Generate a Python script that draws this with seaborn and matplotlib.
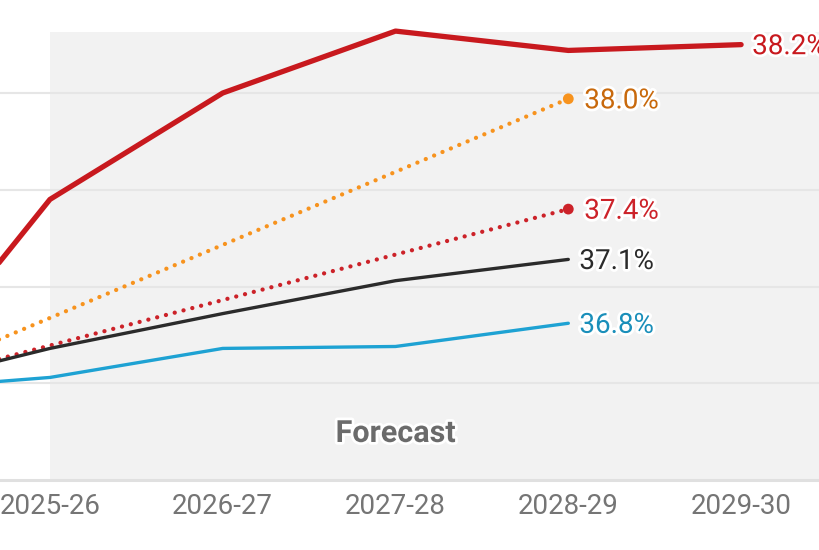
import matplotlib
matplotlib.use("Agg")
import matplotlib.pyplot as plt
import matplotlib.patheffects as pe
import pandas as pd
import seaborn as sns

# ── data ──────────────────────────────────────────────────────────
years = ["2024-25", "2025-26", "2026-27", "2027-28", "2028-29", "2029-30"]
shown_years = years[1:]

red_solid = [36.34, 37.45, 38.00, 38.32, 38.22, 38.25]
black_line = [36.46, 36.68, 36.86, 37.03, 37.14]
blue_line = [36.46, 36.53, 36.68, 36.69, 36.81]
orange_target_years = ["2024-25", "2028-29"]
orange_target = [36.46, 37.97]
red_target_years = ["2024-25", "2028-29"]
red_target = [36.46, 37.40]

end_labels = ["38.2%", "38.0%", "37.4%", "37.1%", "36.8%"]
grid_values = [36.0, 36.5, 37.0, 37.5, 38.0]

# ── style ─────────────────────────────────────────────────────────
sns.set_theme(style="white")
plt.rcParams["font.family"] = ["Roboto", "DejaVu Sans"]

RED = "#c8191e"
RED_DOT = "#cc2229"
ORANGE = "#f7931e"
ORANGE_TXT = "#c8690c"
BLACK = "#2b2b2b"
BLUE = "#1ea2d3"
BLUE_TXT = "#1a8fba"
SHADE = "#f2f2f2"
GRID = "#e6e6e6"

pos = {y: i for i, y in enumerate(years)}
outline = [pe.withStroke(linewidth=4, foreground="white")]

fig = plt.figure(figsize=(8.2, 5.5), dpi=100)
# axes box in pixels: x 0..820, y 32..480 (from top)
ax = fig.add_axes([0, 70 / 550, 1, 448 / 550])
ax.set_facecolor("white")

x_left = 1 - 50 / 173
x_right = 5 + 79 / 173
ax.set_xlim(x_left, x_right)
ax.set_ylim(36.0, 38.0 + 61 / 193.5)

# forecast shading
ax.axvspan(1, x_right, color=SHADE, zorder=0, lw=0)

# gridlines
for g in grid_values[1:]:
    ax.axhline(g, color=GRID, lw=1.5, zorder=1)
ax.axhline(grid_values[0], color="#e0e0e0", lw=2.2, zorder=1, clip_on=False)


def draw(xs, ys, color, lw, ls="-", end_marker=False):
    df = pd.DataFrame({"x": [pos[x] for x in xs], "y": ys})
    sns.lineplot(data=df, x="x", y="y", ax=ax, color=color, lw=lw,
                 linestyle=ls, dash_capstyle="round", solid_capstyle="round",
                 zorder=3, clip_on=False)
    if end_marker:
        sns.scatterplot(x=df["x"].iloc[-1:], y=df["y"].iloc[-1:], ax=ax,
                        color=color, s=60, edgecolor="none", zorder=4)
    return df["x"].iloc[-1], df["y"].iloc[-1]


dots = (0, (0.01, 2.1))
ends = [
    draw(years, red_solid, RED, 3.8),
    draw(orange_target_years, orange_target, ORANGE, 3.1, dots, True),
    draw(red_target_years, red_target, RED_DOT, 3.1, dots, True),
    draw(years[:5], black_line, BLACK, 2.4),
    draw(years[:5], blue_line, BLUE, 2.4),
]

label_colors = [RED, ORANGE_TXT, RED_DOT, BLACK, BLUE_TXT]
offsets = [8, 11.5, 11.5, 8, 8]
for (x, y), txt, c, off in zip(ends, end_labels, label_colors, offsets):
    ax.annotate(txt, (x, y), xytext=(off, -1.5), textcoords="offset points",
                ha="left", va="center", fontsize=20, color=c,
                path_effects=outline, zorder=5, annotation_clip=False)

ax.text(pos["2027-28"], 36.243, "Forecast", ha="center", va="center",
        fontsize=22, fontweight="bold", color="#6b6b6b",
        path_effects=outline, zorder=5)

# axes cosmetics
ax.set_xticks([pos[y] for y in shown_years])
ax.set_xticklabels(shown_years, fontsize=20, color="#757575")
ax.tick_params(axis="x", length=0, pad=9)
ax.set_yticks([])
ax.set_xlabel("")
ax.set_ylabel("")
for s in ax.spines.values():
    s.set_visible(False)

fig.savefig("out.png", dpi=100)
